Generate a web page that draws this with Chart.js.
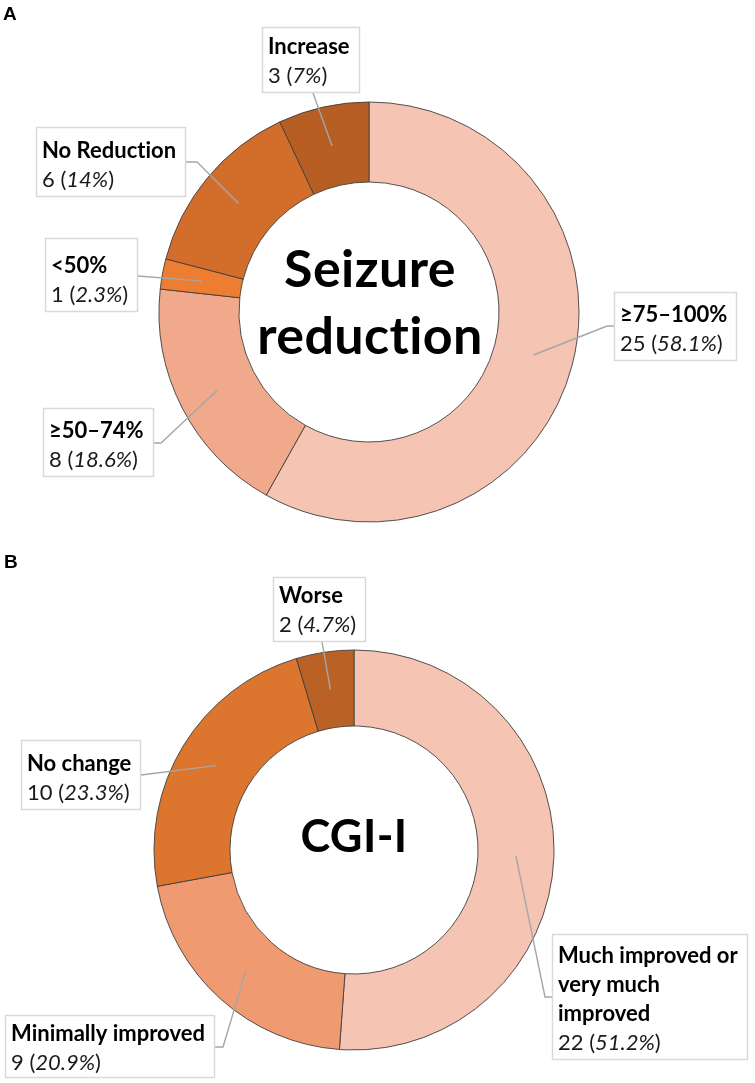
<!DOCTYPE html>
<html><head><meta charset="utf-8">
<script src="https://cdn.jsdelivr.net/npm/chart.js@4.4.1/dist/chart.umd.min.js"></script>
<style>
html,body{margin:0;padding:0;background:#fff;}
#wrap{position:relative;width:755px;height:1083px;overflow:hidden;background:#fff;}
.panel{position:absolute;left:0;width:755px;}
#pA{top:0;height:540px;}
#pB{top:540px;height:543px;}
canvas{font-variant-ligatures:none;font-feature-settings:"liga" 0,"clig" 0;}
.tag{position:absolute;font:bold 19px "Liberation Sans",Arial,sans-serif;line-height:1;color:#000;}
</style></head><body>
<div id="wrap">
  <div class="panel" id="pA"><canvas id="cA" width="755" height="540"></canvas></div>
  <div class="panel" id="pB"><canvas id="cB" width="755" height="543"></canvas></div>
  <div class="tag" style="left:3px;top:4px">A</div>
  <div class="tag" style="left:4px;top:552px">B</div>
</div>
<script>
// ---- Data ----
const seizureCategories = ['≥75–100%', '≥50–74%', '<50%', 'No Reduction', 'Increase'];
const seizureCounts = [25, 8, 1, 6, 3];
const seizurePctLabels = ['58.1', '18.6', '2.3', '14', '7'];
const seizureColors = ['#F5C4B3', '#F0A98B', '#ED7D31', '#D26D2B', '#B65E24'];

const cgiCategories = ['Much improved or very much improved', 'Minimally improved', 'No change', 'Worse'];
const cgiCounts = [22, 9, 10, 2];
const cgiPctLabels = ['51.2', '20.9', '23.3', '4.7'];
const cgiColors = ['#F5C4B3', '#F09A72', '#DC752D', '#BA6225'];

const FAM = 'Lato, "Open Sans", sans-serif';

// ---- Plugins ----
const centerTextPlugin = {
  id: 'centerText',
  afterDatasetsDraw(chart, args, opts) {
    if (!opts || !opts.lines) return;
    const ctx = chart.ctx;
    const meta = chart.getDatasetMeta(0);
    const arc = meta.data[0];
    const cx = arc.x, cy = arc.y;
    ctx.save();
    ctx.fillStyle = '#000';
    ctx.textAlign = 'center';
    ctx.textBaseline = 'alphabetic';
    if ('textRendering' in ctx) ctx.textRendering = 'optimizeSpeed';
    if ('letterSpacing' in ctx) ctx.letterSpacing = '0.4px';
    ctx.font = `bold ${opts.size}px ${FAM}`;
    opts.lines.forEach((l, k) => {
      ctx.fillText(l, cx + (opts.dx || 0), cy + opts.baselines[k]);
    });
    ctx.restore();
  }
};

const calloutPlugin = {
  id: 'callouts',
  afterDatasetsDraw(chart, args, opts) {
    if (!opts || !opts.items) return;
    const ctx = chart.ctx;
    const meta = chart.getDatasetMeta(0);
    const labels = chart.data.labels;
    const counts = chart.data.datasets[0].data;
    const pcts = opts.pcts;
    const fs = opts.fontSize, lh = opts.lineHeight;
    ctx.save();
    opts.items.forEach(it => {
      const i = it.index;
      const lines = it.lines || [labels[i]];
      ctx.font = `bold ${fs}px ${FAM}`;
      let w = 0;
      lines.forEach(l => { w = Math.max(w, ctx.measureText(l).width); });
      const segs = [[counts[i] + ' (', 'normal'], [pcts[i] + '%', 'italic'], [')', 'normal']];
      let vw = 0;
      segs.forEach(s => { ctx.font = `${s[1]} ${fs}px ${FAM}`; vw += ctx.measureText(s[0]).width; });
      w = Math.max(w, vw);
      const base = it.base != null ? it.base : opts.base;
      const padB = it.padB != null ? it.padB : opts.padB;
      const bw = Math.round(w + opts.padL + opts.padR);
      const bh = Math.round(base + lh * lines.length + padB);
      const bx = it.right != null ? it.right - bw : it.left;
      const by = it.top;

      // leader line from the box to the slice centre
      const c = meta.data[i].getCenterPoint();
      let p, q;
      if (it.side === 'left') { p = {x: bx, y: by + it.ay}; q = {x: bx - it.elbow, y: by + it.ay}; }
      else if (it.side === 'right') { p = {x: bx + bw, y: by + it.ay}; q = {x: bx + bw + it.elbow, y: by + it.ay}; }
      else { p = {x: bx + it.ax, y: by + bh}; q = p; }
      ctx.strokeStyle = '#A6A6A6';
      ctx.lineWidth = 1.4;
      ctx.beginPath();
      ctx.moveTo(p.x, p.y);
      ctx.lineTo(q.x, q.y);
      ctx.lineTo(c.x, c.y);
      ctx.stroke();

      // box
      ctx.fillStyle = '#FFFFFF';
      ctx.fillRect(bx, by, bw, bh);
      ctx.strokeStyle = '#D9D9D9';
      ctx.lineWidth = 1.5;
      ctx.strokeRect(bx + 0.5, by + 0.5, bw - 1, bh - 1);

      // text
      ctx.fillStyle = '#000';
      ctx.textAlign = 'left';
      ctx.textBaseline = 'alphabetic';
      const tx = bx + opts.padL;
      ctx.font = `bold ${fs}px ${FAM}`;
      lines.forEach((l, k) => ctx.fillText(l, tx, by + base + k * lh));
      let x = tx;
      const vy = by + base + lines.length * lh;
      ctx.fillStyle = '#1A1A1A';
      segs.forEach(s => {
        ctx.font = `${s[1]} ${fs}px ${FAM}`;
        ctx.fillText(s[0], x, vy);
        x += ctx.measureText(s[0]).width;
      });
    });
    ctx.restore();
  }
};

Chart.register(centerTextPlugin, calloutPlugin);

function makeDoughnut(canvas, cats, counts, colors, pcts, radius, cutout, padding, items, center) {
  return new Chart(canvas, {
    type: 'doughnut',
    data: {
      labels: cats,
      datasets: [{
        data: counts,
        backgroundColor: colors,
        borderColor: '#3F3F3F',
        borderWidth: 0.9
      }]
    },
    options: {
      responsive: false,
      animation: false,
      devicePixelRatio: 1,
      radius: radius,
      cutout: cutout,
      layout: { padding: padding },
      plugins: {
        legend: { display: false },
        tooltip: { enabled: false },
        title: { display: false },
        centerText: center,
        callouts: {
          pcts: pcts,
          fontSize: 22,
          lineHeight: 29,
          base: 30,
          padL: 6,
          padR: 10,
          padB: 10,
          items: items
        }
      }
    }
  });
}

// Panel A
makeDoughnut(
  document.getElementById('cA'),
  seizureCategories, seizureCounts, seizureColors, seizurePctLabels,
  210, '61.9%',
  { left: 0, right: 17, top: 84, bottom: 0 },
  [
    { index: 0, left: 614, top: 292, side: 'left', ay: 34, elbow: 7 },
    { index: 1, right: 154, top: 408, side: 'right', ay: 35, elbow: 7 },
    { index: 2, right: 138, top: 238, side: 'right', ay: 38, elbow: 0, base: 35 },
    { index: 3, right: 186, top: 127, side: 'right', ay: 35, elbow: 11, base: 31 },
    { index: 4, left: 262, top: 27, side: 'bottom', ax: 51, base: 27 }
  ],
  { lines: ['Seizure', 'reduction'], size: 52, baselines: [-25, 42], dx: 1 }
);

// Panel B
makeDoughnut(
  document.getElementById('cB'),
  cgiCategories, cgiCounts, cgiColors, cgiPctLabels,
  200, '62%',
  { left: 0, right: 47, top: 77, bottom: 0 },
  [
    { index: 0, left: 552, top: 394, side: 'left', ay: 63, elbow: 7, base: 29,
      lines: ['Much improved or', 'very much', 'improved'] },
    { index: 1, left: 5, top: 475, side: 'right', ay: 32, elbow: 8, base: 26, padB: 8 },
    { index: 2, left: 21, top: 200, side: 'right', ay: 35, elbow: 0, base: 31 },
    { index: 3, left: 273, top: 37, side: 'bottom', ax: 49, base: 26 }
  ],
  { lines: ['CGI-I'], size: 45, baselines: [2], dx: 0 }
);
</script>
</body></html>
